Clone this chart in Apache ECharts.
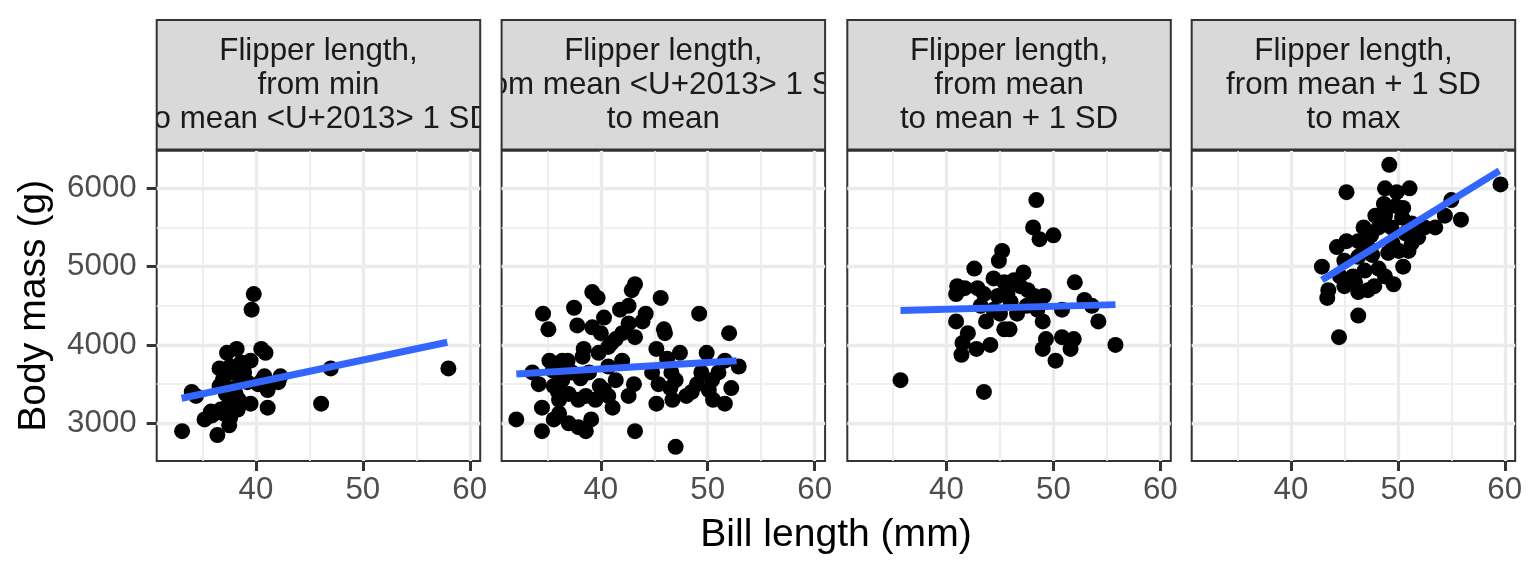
<!DOCTYPE html>
<html>
<head>
<meta charset="utf-8">
<script src="https://cdn.jsdelivr.net/npm/echarts@6/dist/echarts.min.js"></script>
<style>
  html, body { margin: 0; padding: 0; background: #fff; }
  #chart { width: 1536px; height: 576px; }
</style>
</head>
<body>
<div id="chart"></div>
<script>
// facet labels (as printed in the original, the en dash came out as <U+2013>)
var stripLabels = [
  ['Flipper length,', 'from min', 'to mean <U+2013> 1 SD'],
  ['Flipper length,', 'from mean <U+2013> 1 SD', 'to mean'],
  ['Flipper length,', 'from mean', 'to mean + 1 SD'],
  ['Flipper length,', 'from mean + 1 SD', 'to max']
];

// bill length (mm), body mass (g)
var pointsP1 = [
  [39.8, 4650], [39.6, 4450], [37.3, 3900], [38.2, 3950], [40.5, 3950], [40.9, 3900],
  [36.6, 3700], [37.6, 3725], [38.6, 3775], [39.5, 3800], [42.3, 3600], [42.1, 3525],
  [40.6, 3550], [41.1, 3425], [47.0, 3700], [58.0, 3700], [34.0, 3400], [34.4, 3350],
  [36.6, 3475], [37.2, 3375], [38.0, 3450], [39.5, 3250], [41.1, 3200], [46.1, 3250],
  [35.2, 3050], [35.8, 3150], [36.7, 3175], [37.6, 3075], [38.3, 3175], [37.5, 2975],
  [36.4, 2850], [33.1, 2900], [37.8, 3650], [38.9, 3650], [39.2, 3525], [38.1, 3375],
  [37.5, 3250], [38.4, 3300], [40.2, 3500], [40.8, 3600], [36.9, 3550], [38.7, 3550],
  [37.0, 3125], [35.9, 3100]
];
var pointsP2 = [
  [32.1, 3050], [34.5, 2900], [34.6, 4400], [35.1, 4200], [37.5, 4475], [37.8, 4250],
  [39.2, 4675], [39.7, 4600], [43.2, 4775], [42.9, 4700], [45.6, 4600], [44.2, 4400],
  [42.6, 4500], [41.8, 4450], [40.3, 4350], [39.2, 4225], [49.2, 4400], [52.0, 4150],
  [45.9, 4200], [46.0, 4150], [45.2, 3950], [43.2, 4100], [42.6, 4275], [42.0, 4150],
  [41.4, 4075], [40.7, 3975], [39.8, 3900], [38.4, 3950], [38.3, 3850], [47.4, 3900],
  [49.9, 3900], [46.2, 3825], [51.6, 3800], [52.9, 3725], [35.2, 3800], [36.4, 3800],
  [33.6, 3650], [34.2, 3500], [35.5, 3675], [35.6, 3475], [36.4, 3550], [37.3, 3650],
  [38.9, 3650], [40.7, 3725], [41.4, 3550], [43.1, 3500], [45.4, 3500], [46.6, 3650],
  [47.0, 3550], [49.4, 3650], [50.4, 3550], [52.2, 3450], [50.1, 3425], [48.5, 3400],
  [48.0, 3350], [46.7, 3300], [45.2, 3250], [51.6, 3250], [50.5, 3300], [42.6, 3350],
  [41.1, 3200], [40.7, 3350], [39.5, 3300], [38.6, 3350], [37.9, 3300], [37.0, 3375],
  [36.1, 3300], [34.5, 3200], [35.6, 3050], [36.1, 3125], [37.0, 3000], [38.6, 2900],
  [37.9, 2950], [39.1, 3050], [43.2, 2900], [47.0, 2700], [40.3, 3425], [44.8, 3650],
  [36.9, 3800], [39.9, 3475], [41.0, 4025], [43.9, 4300], [38.1, 3575], [36.0, 3400],
  [46.5, 3450], [51.0, 3650], [49.0, 3500], [42.0, 3800], [40.0, 4150]
];
var pointsP3 = [
  [48.4, 5850], [48.1, 5500], [48.7, 5350], [50.0, 5400], [45.2, 5200], [44.9, 5075],
  [42.6, 4975], [47.2, 4925], [44.4, 4850], [52.0, 4800], [41.0, 4750], [41.7, 4725],
  [42.9, 4725], [40.9, 4650], [43.5, 4650], [45.4, 4800], [46.3, 4825], [46.9, 4750],
  [47.6, 4700], [49.1, 4625], [48.2, 4625], [45.7, 4650], [44.8, 4625], [52.9, 4575],
  [53.6, 4500], [50.8, 4450], [43.2, 4500], [44.4, 4450], [46.6, 4400], [48.5, 4450],
  [40.9, 4300], [43.7, 4300], [45.4, 4200], [45.9, 4200], [49.0, 4300], [54.2, 4300],
  [42.0, 4150], [41.5, 4025], [41.4, 3875], [42.8, 3950], [44.1, 4000], [49.3, 4075],
  [49.0, 3950], [50.8, 4100], [51.9, 4075], [51.6, 3950], [50.2, 3800], [55.8, 4000],
  [35.7, 3550], [43.5, 3400], [46.0, 4550], [47.5, 4500], [45.0, 4400]
];
var pointsP4 = [
  [49.2, 6300], [59.6, 6050], [45.2, 5950], [48.8, 6000], [49.9, 5950], [51.1, 6000],
  [55.0, 5850], [48.7, 5800], [49.8, 5775], [50.5, 5750], [47.9, 5650], [48.8, 5650],
  [50.4, 5625], [54.4, 5650], [55.9, 5600], [46.8, 5500], [48.2, 5500], [49.4, 5500],
  [51.3, 5550], [52.5, 5500], [53.5, 5500], [50.7, 5425], [51.9, 5375], [44.3, 5250],
  [45.2, 5325], [46.3, 5325], [47.2, 5250], [51.3, 5300], [50.1, 5200], [51.0, 5200],
  [45.0, 5075], [46.3, 5125], [47.6, 5150], [49.1, 5175], [42.9, 5000], [50.5, 5000],
  [46.9, 4950], [48.2, 4975], [44.6, 4875], [45.8, 4875], [48.8, 4875], [49.6, 4775],
  [43.5, 4700], [45.0, 4750], [46.3, 4675], [47.2, 4700], [47.8, 4750], [43.4, 4600],
  [46.3, 4375], [44.5, 4100], [47.5, 5400], [49.5, 5300], [46.0, 4800]
];
// fitted lm lines, start and end
var fitP1 = [[33.05, 3320], [57.9, 4035]];
var fitP2 = [[32.1, 3630], [52.7, 3800]];
var fitP3 = [[35.7, 4440], [55.8, 4515]];
var fitP4 = [[42.9, 4830], [59.5, 6225]];

var xRange = [30.725, 60.975];
var yRange = [2520, 6480];
var xTicks = [40, 50, 60];
var xMinor = [35, 45, 55];
var yTicks = [3000, 4000, 5000, 6000];
var yMinor = [3500, 4500, 5500];

var panels = [pointsP1, pointsP2, pointsP3, pointsP4];
var fits = [fitP1, fitP2, fitP3, fitP4];

var FONT = 'Liberation Sans, Arial, sans-serif';
var panelLeft = [156.7, 501.6, 847.3, 1191.7];
var panelW = 323.5, panelTop = 150.7, panelH = 310.2;
var stripTop = 20, stripBottom = 149.5;

var grids = [], xAxes = [], yAxes = [], series = [];
var plain = function (v) { return String(v); };

panelLeft.forEach(function (left, i) {
  grids.push({
    left: left, top: panelTop, width: panelW, height: panelH,
    show: true, backgroundColor: '#fff', borderColor: '#333333', borderWidth: 2
  });
  xAxes.push({
    gridIndex: i, type: 'value', min: xRange[0], max: xRange[1],
    splitLine: { show: false },
    axisLine: { show: false },
    axisTick: { show: true, customValues: xTicks, length: 10, lineStyle: { color: '#333333', width: 3 } },
    axisLabel: { customValues: xTicks, formatter: plain, color: '#4D4D4D', fontSize: 31.3, fontFamily: FONT, margin: 14 }
  });
  yAxes.push({
    gridIndex: i, type: 'value', min: yRange[0], max: yRange[1],
    splitLine: { show: false },
    axisLine: { show: false },
    axisTick: { show: i === 0, customValues: yTicks, length: 10, lineStyle: { color: '#333333', width: 3 } },
    axisLabel: { show: i === 0, customValues: yTicks, formatter: plain, color: '#4D4D4D', fontSize: 31.3, fontFamily: FONT, margin: 20 }
  });

  // grid lines as mark lines under the points
  var gl = [];
  xMinor.forEach(function (v) { gl.push({ xAxis: v, lineStyle: { color: '#EBEBEB', width: 1.7, type: 'solid' } }); });
  yMinor.forEach(function (v) { gl.push({ yAxis: v, lineStyle: { color: '#EBEBEB', width: 1.7, type: 'solid' } }); });
  xTicks.forEach(function (v) { gl.push({ xAxis: v, lineStyle: { color: '#EBEBEB', width: 3.3, type: 'solid' } }); });
  yTicks.forEach(function (v) { gl.push({ yAxis: v, lineStyle: { color: '#EBEBEB', width: 3.3, type: 'solid' } }); });
  series.push({
    type: 'scatter', xAxisIndex: i, yAxisIndex: i, data: [], z: 1, silent: true,
    markLine: { z: 1, silent: true, symbol: ['none', 'none'], label: { show: false }, emphasis: { disabled: true }, animation: false, data: gl }
  });
  series.push({
    type: 'scatter', xAxisIndex: i, yAxisIndex: i, data: panels[i], z: 2,
    symbol: 'circle', symbolSize: 16, itemStyle: { color: '#000', opacity: 1 }
  });
  series.push({
    type: 'line', xAxisIndex: i, yAxisIndex: i, data: fits[i], z: 3,
    showSymbol: false, symbol: 'none', lineStyle: { color: '#3366FF', width: 7 }
  });
});

// facet strips: grey box, label clipped to the box, dark border
series.push({
  type: 'custom', coordinateSystem: 'none', silent: true, z: 10,
  data: stripLabels.map(function (s, i) { return [i]; }),
  renderItem: function (params) {
    var i = params.dataIndex;
    var box = { x: panelLeft[i], y: stripTop, width: panelW, height: stripBottom - stripTop };
    return {
      type: 'group',
      children: [
        { type: 'rect', shape: box, style: { fill: '#D9D9D9' } },
        {
          type: 'group',
          clipPath: { type: 'rect', shape: box },
          children: [{
            type: 'text', x: box.x + panelW / 2, y: (stripTop + stripBottom) / 2 + 1,
            style: {
              text: stripLabels[i].join('\n'), fill: '#1A1A1A', font: '31.3px ' + FONT,
              lineHeight: 34, align: 'center', verticalAlign: 'middle'
            }
          }]
        },
        { type: 'rect', shape: box, style: { fill: 'none', stroke: '#333333', lineWidth: 2 } }
      ]
    };
  }
});

var chart = echarts.init(document.getElementById('chart'), null, { renderer: 'canvas' });
chart.setOption({
  animation: false,
  backgroundColor: '#fff',
  grid: grids,
  xAxis: xAxes,
  yAxis: yAxes,
  series: series,
  graphic: [
    {
      type: 'text', x: 836, y: 535,
      style: { text: 'Bill length (mm)', fill: '#000', font: '39.1px ' + FONT, align: 'center', verticalAlign: 'middle' }
    },
    {
      type: 'text', x: 34, y: panelTop + panelH / 2, rotation: Math.PI / 2,
      style: { text: 'Body mass (g)', fill: '#000', font: '39.1px ' + FONT, align: 'center', verticalAlign: 'middle' }
    }
  ]
});
</script>
</body>
</html>
